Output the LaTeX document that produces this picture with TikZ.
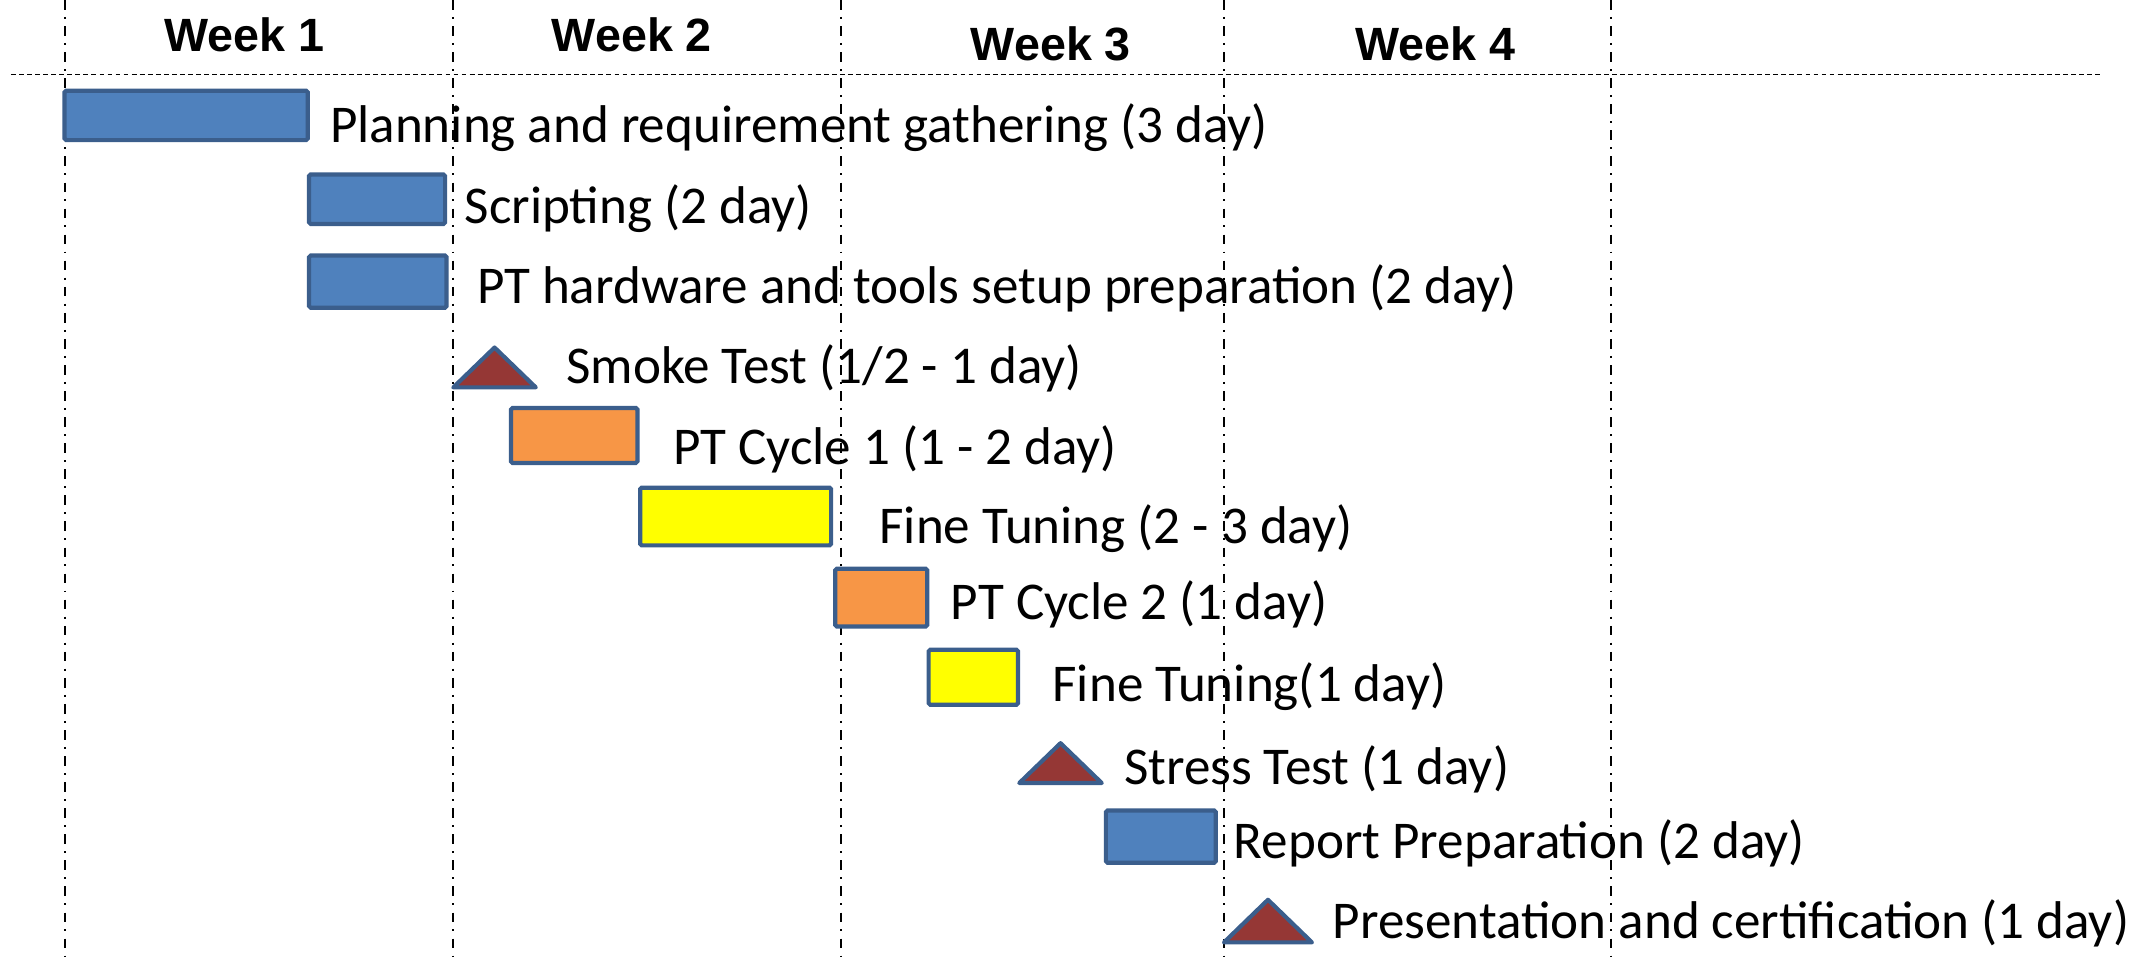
\documentclass[tikz,border=0pt]{standalone}
\usepackage{fontspec}
\setmainfont{Carlito}
\newfontfamily\weekfont{Liberation Sans}
\definecolor{barblue}{HTML}{4F81BD}
\definecolor{barorange}{HTML}{F79646}
\definecolor{baryellow}{HTML}{FFFF00}
\definecolor{milered}{HTML}{953735}
\definecolor{edgeblue}{HTML}{3B5E8C}
\tikzset{
  taskbar/.style={draw=edgeblue, line width=2.6pt, rounded corners=1pt},
  milestone/.style={draw=edgeblue, fill=milered, line width=2.6pt, line join=round},
  tasklabel/.style={anchor=west, inner sep=0pt, font=\fontsize{33}{38}\selectfont},
  weeklabel/.style={inner sep=0pt, font=\weekfont\bfseries\fontsize{29}{34}\selectfont},
  weekline/.style={line width=1.3pt, dash pattern=on 6pt off 4.5pt on 1.2pt off 4.5pt},
}
\begin{document}
\begin{tikzpicture}[x=0.03cm, y=-0.03cm]

\useasboundingbox (0,0) rectangle (1568,699);

%draw the week grid
\foreach \wx in {47,330,612,891,1173}
  \draw [weekline] (\wx,0) -- (\wx,699);
\draw [dashed, line width=0.6pt, dash pattern=on 3pt off 2pt] (8,54) -- (1530,54);

\node [weeklabel] (week1) at (178,25) {Week 1};
\node [weeklabel] (week2) at (460,25) {Week 2};
\node [weeklabel] (week3) at (765,32) {Week 3};
\node [weeklabel] (week4) at (1045,32) {Week 4};

%draw the task bars
\draw [taskbar, fill=barblue] (47,66) rectangle (224,102);
\draw [taskbar, fill=barblue] (225,127) rectangle (324,163);
\draw [taskbar, fill=barblue] (225,186) rectangle (325,224);
\draw [milestone] (330,282) -- (360,253) -- (390,282) -- cycle;
\draw [taskbar, fill=barorange] (372,297) rectangle (464,337);
\draw [taskbar, fill=baryellow] (466,355) rectangle (605,397);
\draw [taskbar, fill=barorange] (608,414) rectangle (675,456);
\draw [taskbar, fill=baryellow] (676,473) rectangle (741,513);
\draw [milestone] (742,570) -- (772,541) -- (802,570) -- cycle;
\draw [taskbar, fill=barblue] (805,590) rectangle (885,628);
\draw [milestone] (891,686) -- (923,655) -- (955,686) -- cycle;

%task names
\node [tasklabel] (planning) at (240,93) {Planning and requirement gathering (3 day)};
\node [tasklabel] (scripting) at (338,152) {Scripting (2 day)};
\node [tasklabel] (setup) at (347,210) {PT hardware and tools setup preparation (2 day)};
\node [tasklabel] (smoke) at (412,268) {Smoke Test (1/2 - 1 day)};
\node [tasklabel] (cycle1) at (490,327) {PT Cycle 1 (1 - 2 day)};
\node [tasklabel] (tuning1) at (640,385) {Fine Tuning (2 - 3 day)};
\node [tasklabel] (cycle2) at (692,440) {PT Cycle 2 (1 day)};
\node [tasklabel] (tuning2) at (766,500) {Fine Tuning(1 day)};
\node [tasklabel] (stress) at (818,560) {Stress Test (1 day)};
\node [tasklabel] (report) at (898,614) {Report Preparation (2 day)};
\node [tasklabel] (present) at (970,672) {Presentation and certification (1 day)};

\end{tikzpicture}
\end{document}
